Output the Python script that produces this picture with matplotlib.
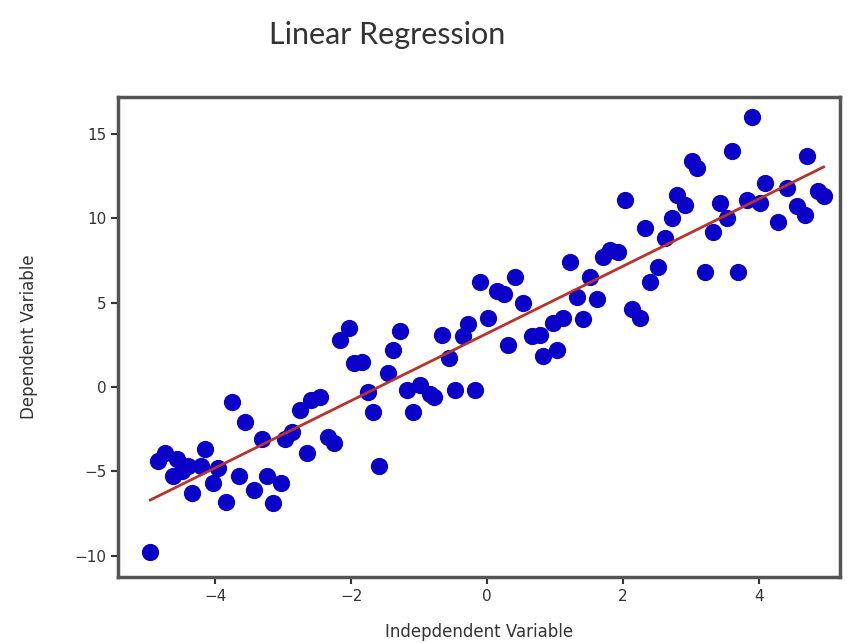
import matplotlib
matplotlib.use('Agg')
import matplotlib.pyplot as plt
import numpy as np

# points
x_vals = [-4.96, -4.85, -4.74, -4.56, -4.63, -4.49, -4.40, -4.34, -4.15, -4.22,
          -4.04, -3.96, -3.85, -3.75, -3.66, -3.56, -3.44, -3.31, -3.24, -3.15,
          -3.04, -2.97, -2.87, -2.65, -2.75, -2.60, -2.46, -2.34, -2.26, -2.16,
          -2.04, -1.96, -1.84, -1.76, -1.68, -1.60, -1.46, -1.38, -1.28, -1.18,
          -1.09, -0.99, -0.85, -0.79, -0.66, -0.57, -0.47, -0.35, -0.28, -0.18,
          -0.10, 0.01, 0.15, 0.24, 0.31, 0.41, 0.53, 0.66, 0.78, 0.82,
          0.96, 1.03, 1.12, 1.22, 1.32, 1.41, 1.51, 1.62, 1.71, 1.81,
          1.93, 2.03, 2.13, 2.25, 2.32, 2.40, 2.51, 2.62, 2.72, 2.79,
          2.91, 3.01, 3.09, 3.21, 3.32, 3.43, 3.53, 3.60, 3.69, 3.82,
          3.90, 4.01, 4.09, 4.28, 4.41, 4.56, 4.68, 4.71, 4.87, 4.95]
y_vals = [-9.8, -4.4, -3.9, -4.3, -5.3, -5.0, -4.7, -6.3, -3.7, -4.7,
          -5.7, -4.8, -6.8, -0.9, -5.3, -2.1, -6.1, -3.1, -5.3, -6.9,
          -5.7, -3.1, -2.7, -3.9, -1.4, -0.8, -0.6, -3.0, -3.3, 2.8,
          3.5, 1.4, 1.5, -0.3, -1.5, -4.7, 0.8, 2.2, 3.3, -0.2,
          -1.5, 0.1, -0.4, -0.6, 3.1, 1.7, -0.2, 3.0, 3.7, -0.2,
          6.2, 4.1, 5.7, 5.5, 2.5, 6.5, 5.0, 3.0, 3.1, 1.8,
          3.8, 2.2, 4.1, 7.4, 5.3, 4.0, 6.5, 5.2, 7.7, 8.1,
          8.0, 11.1, 4.6, 4.1, 9.4, 6.2, 7.1, 8.8, 10.0, 11.4,
          10.8, 13.4, 13.0, 6.8, 9.2, 10.9, 10.0, 14.0, 6.8, 11.1,
          16.0, 10.9, 12.1, 9.8, 11.8, 10.7, 10.2, 13.7, 11.6, 11.3]

x = np.array(x_vals)
y = np.array(y_vals)
slope, intercept = np.polyfit(x, y, 1)
x_line = np.array([x.min(), x.max()])

fig = plt.figure(figsize=(8.51, 6.43), dpi=100)
ax = fig.add_axes([0.139, 0.103, 0.848, 0.746])

ax.scatter(x, y, s=130, color='#0a00c8', zorder=2)
ax.plot(x_line, slope * x_line + intercept, color='#b8332b', linewidth=2, zorder=3)

ax.set_xlim(-5.43, 5.19)
ax.set_ylim(-11.26, 17.18)
ax.set_xticks([-4, -2, 0, 2, 4])
ax.set_yticks([-10, -5, 0, 5, 10, 15])
ax.tick_params(labelsize=11, width=1.5, length=5, colors='#333333')
for sp in ax.spines.values():
    sp.set_linewidth(2.5)
    sp.set_color('#555555')

ax.set_xlabel('Indepdendent Variable', fontsize=12, color='#333333', labelpad=14)
ax.set_ylabel('Dependent Variable', fontsize=12, color='#333333', labelpad=26)

fig.text(0.455, 0.945, 'Linear Regression', fontsize=22, family='Lato',
         ha='center', va='center', color='#333333')

fig.savefig('out.png', dpi=100)
